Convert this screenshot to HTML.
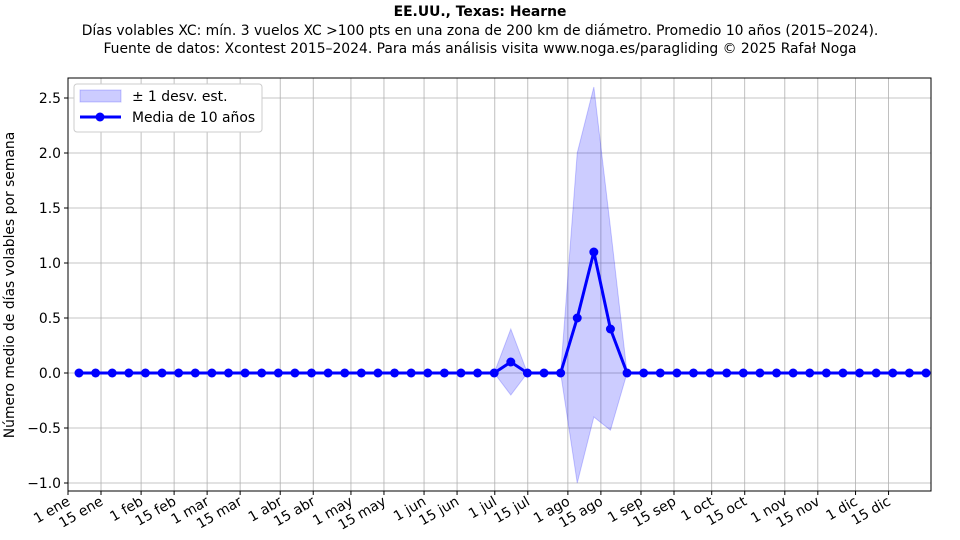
<!DOCTYPE html>
<html><head><meta charset="utf-8"><style>body{margin:0;background:#fff}svg{display:block;font-family:"DejaVu Sans","Liberation Sans",sans-serif}</style></head>
<body>
<svg width="960" height="540" viewBox="0 0 960 540" xmlns="http://www.w3.org/2000/svg">
<text x="480" y="16" text-anchor="middle" font-size="13.9" font-weight="bold">EE.UU., Texas: Hearne</text>
<text x="480" y="35" text-anchor="middle" font-size="13.9">Días volables XC: mín. 3 vuelos XC &gt;100 pts en una zona de 200 km de diámetro. Promedio 10 años (2015–2024).</text>
<text x="480" y="53" text-anchor="middle" font-size="13.9">Fuente de datos: Xcontest 2015–2024. Para más análisis visita www.noga.es/paragliding © 2025 Rafał Noga</text>
<g id="grid" stroke="#b0b0b0" stroke-width="0.8"></g>
<g id="ylab" font-size="13.9" text-anchor="end"></g>
<g id="xlab" font-size="13.9" text-anchor="end"></g>
<polygon id="band" fill="#0000ff" fill-opacity="0.2" stroke="#0000ff" stroke-opacity="0.2"/>
<polyline id="line" fill="none" stroke="#0000ff" stroke-width="3"/>
<g id="dots" fill="#0000ff"></g>
<rect x="68" y="78" width="863" height="413" fill="none" stroke="#000" stroke-width="1"/>
<text transform="translate(14,285) rotate(-90)" text-anchor="middle" font-size="13.9">Número medio de días volables por semana</text>
<g>
<rect x="74" y="84" width="188" height="48" fill="#fff" stroke="#ccc" rx="3"/>
<rect x="80" y="90" width="41" height="12" fill="#0000ff" fill-opacity="0.2" stroke="#0000ff" stroke-opacity="0.2"/>
<text x="132" y="101" font-size="13.9">± 1 desv. est.</text>
<line x1="80" y1="117" x2="121" y2="117" stroke="#0000ff" stroke-width="3"/>
<circle cx="100" cy="117" r="4.5" fill="#0000ff"/>
<text x="132" y="122" font-size="13.9">Media de 10 años</text>
</g>
<script>
const ns="http://www.w3.org/2000/svg";
const X0=68,PD=863/366,Y0=373,YU=110;
const g=document.getElementById('grid'),yl=document.getElementById('ylab'),xl=document.getElementById('xlab');
function el(t,a,p,txt){const e=document.createElementNS(ns,t);for(const k in a)e.setAttribute(k,a[k]);if(txt)e.textContent=txt;p.appendChild(e);return e;}
for(let v=-1;v<=2.5;v+=0.5){const y=Y0-v*YU;el('line',{x1:68,x2:931,y1:y,y2:y},g);el('line',{x1:64,x2:68,y1:y,y2:y,stroke:'#000'},yl);el('text',{x:61,y:y+5},yl,v.toFixed(1).replace('-','\u2212'));}
const ticks=[[0,'1 ene'],[14,'15 ene'],[31,'1 feb'],[45,'15 feb'],[59,'1 mar'],[73,'15 mar'],[90,'1 abr'],[104,'15 abr'],[120,'1 may'],[134,'15 may'],[151,'1 jun'],[165,'15 jun'],[181,'1 jul'],[195,'15 jul'],[212,'1 ago'],[226,'15 ago'],[243,'1 sep'],[257,'15 sep'],[273,'1 oct'],[287,'15 oct'],[304,'1 nov'],[318,'15 nov'],[334,'1 dic'],[348,'15 dic']];
for(const [d,t] of ticks){const x=X0+d*PD;el('line',{x1:x,x2:x,y1:78,y2:491},g);el('line',{x1:x,x2:x,y1:491,y2:495,stroke:'#000'},xl);el('text',{x:x+3,y:504,transform:`rotate(-30 ${x+3} ${504})`},xl,t);}
const mean=new Array(52).fill(0),up=new Array(52).fill(0),lo=new Array(52).fill(0);
mean[26]=0.1;up[26]=0.4;lo[26]=-0.2;
mean[30]=0.5;up[30]=2.0;lo[30]=-1.0;
mean[31]=1.1;up[31]=2.6;lo[31]=-0.4;
mean[32]=0.4;up[32]=1.32;lo[32]=-0.52;
const px=i=>79+i*(847/51),py=v=>Y0-v*YU;
let pts=[],bp=[];
for(let i=0;i<52;i++){pts.push(px(i)+','+py(mean[i]));bp.push(px(i)+','+py(up[i]));}
for(let i=51;i>=0;i--)bp.push(px(i)+','+py(lo[i]));
document.getElementById('line').setAttribute('points',pts.join(' '));
document.getElementById('band').setAttribute('points',bp.join(' '));
const dots=document.getElementById('dots');
for(let i=0;i<52;i++)el('circle',{cx:px(i),cy:py(mean[i]),r:4.5},dots);
</script>
</svg>
</body></html>
